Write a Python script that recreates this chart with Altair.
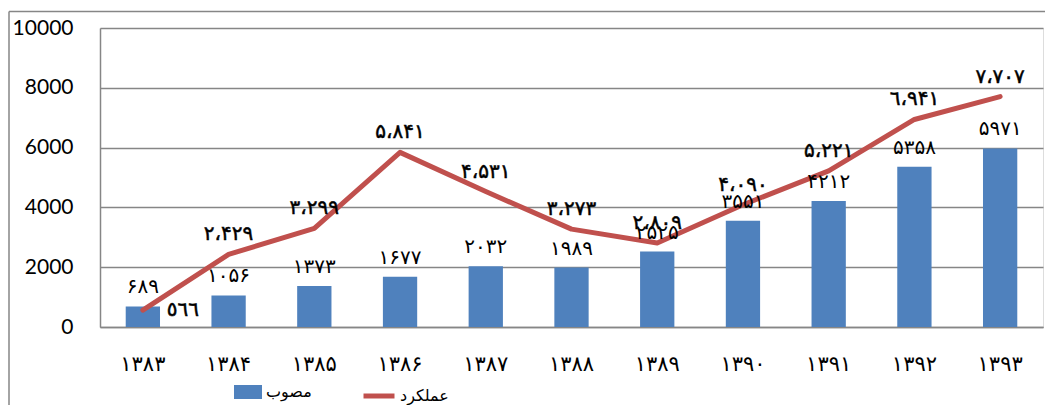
import altair as alt
import pandas as pd

years = ["۱۳۸۳", "۱۳۸۴", "۱۳۸۵", "۱۳۸۶", "۱۳۸۷", "۱۳۸۸", "۱۳۸۹", "۱۳۹۰", "۱۳۹۱", "۱۳۹۲", "۱۳۹۳"]
approved = [689, 1056, 1373, 1677, 2032, 1989, 2525, 3551, 4212, 5358, 5971]
actual = [566, 2429, 3299, 5841, 4531, 3273, 2809, 4090, 5221, 6941, 7707]
approved_labels = ["۶۸۹", "۱۰۵۶", "۱۳۷۳", "۱۶۷۷", "۲۰۳۲", "۱۹۸۹", "۲۵۲۵", "۳۵۵۱", "۴۲۱۲", "۵۳۵۸", "۵۹۷۱"]
actual_labels = ["٥٦٦", "۲،۴۲۹", "۳،۲۹۹", "۵،۸۴۱", "۴،۵۳۱", "۳،۲۷۳", "۲،۸۰۹", "۴،۰۹۰", "۵،۲۲۱", "٦،۹۴۱", "۷،۷۰۷"]
series_names = ["مصوب", "عملکرد"]
y_ticks = [0, 2000, 4000, 6000, 8000, 10000]

BLUE = "#4F81BD"
RED = "#C0504D"
GRAY = "#868686"
AR_FONT = "DejaVu Sans"

df = pd.DataFrame({
    "year": years,
    "approved": approved,
    "actual": actual,
    "al": approved_labels,
    "bl": actual_labels,
    "idx": list(range(len(years))),
    "sa": [series_names[0]] * len(years),
    "sb": [series_names[1]] * len(years),
})

x = alt.X("year:N", sort=years,
          scale=alt.Scale(paddingInner=0.6, paddingOuter=0.3),
          axis=alt.Axis(title=None, labelAngle=0, ticks=False, domain=True,
                        domainColor=GRAY, domainWidth=1.5, grid=False,
                        labelFont=AR_FONT, labelFontSize=21, labelColor="black",
                        labelPadding=26))
yscale = alt.Scale(domain=[0, 10000], nice=False)

base = alt.Chart(df)

bars = base.mark_bar().encode(
    x=x,
    y=alt.Y("approved:Q", scale=yscale,
            axis=alt.Axis(title=None, values=y_ticks, format="d", ticks=False,
                          grid=True, gridColor=GRAY, gridWidth=1.5,
                          domain=True, domainColor=GRAY, domainWidth=1.5,
                          labelFont="Lato", labelFontSize=21, labelColor="black",
                          labelPadding=27)),
    fill=alt.Fill("sa:N",
                  scale=alt.Scale(domain=[series_names[0]], range=[BLUE]),
                  legend=alt.Legend(title=None, orient="none", legendX=134, legendY=350,
                                    symbolType="M-1,-0.5H1V0.5H-1Z", symbolSize=784,
                                    symbolStrokeWidth=0, symbolOpacity=1,
                                    labelFont=AR_FONT, labelFontSize=16,
                                    labelColor="black", labelOffset=4)),
)

line = base.mark_line(strokeWidth=5, strokeCap="round", strokeJoin="round").encode(
    x=x,
    y=alt.Y("actual:Q", scale=yscale),
    stroke=alt.Stroke("sb:N",
                      scale=alt.Scale(domain=[series_names[1]], range=[RED]),
                      legend=alt.Legend(title=None, orient="none", legendX=261, legendY=350,
                                        symbolType="stroke", symbolSize=961,
                                        symbolStrokeWidth=5,
                                        labelFont=AR_FONT, labelFontSize=16,
                                        labelColor="black", labelOffset=3)),
)

bar_text = base.mark_text(dy=-19, baseline="middle", font=AR_FONT, fontSize=20,
                          color="black").encode(
    x=x, y=alt.Y("approved:Q", scale=yscale), text="al:N")

line_text = base.transform_filter("datum.idx > 0").mark_text(
    dy=-20, baseline="middle", font=AR_FONT, fontSize=20,
    color="black", stroke="black", strokeWidth=0.5).encode(
    x=x, y=alt.Y("actual:Q", scale=yscale), text="bl:N")

first_text = base.transform_filter("datum.idx == 0").mark_text(
    dx=24, align="left", baseline="middle", font=AR_FONT, fontSize=20,
    color="black", stroke="black", strokeWidth=0.5).encode(
    x=x, y=alt.Y("actual:Q", scale=yscale), text="bl:N")

frame_data = alt.Data(values=[{"k": 1}])
frame_left = alt.Chart(frame_data).mark_rule(color=GRAY, strokeWidth=1.5).encode(
    x=alt.value(-91), y=alt.value(-16.5), y2=alt.value(420))
frame_top = alt.Chart(frame_data).mark_rule(color=GRAY, strokeWidth=1.5).encode(
    x=alt.value(-91), x2=alt.value(1000), y=alt.value(-16.5))

chart = alt.layer(bars, line, bar_text, line_text, first_text, frame_left, frame_top).resolve_scale(
    fill="independent", stroke="independent"
).properties(
    width=943, height=299,
    autosize=alt.AutoSizeParams(type="none"),
    padding={"left": 92, "top": 20, "right": 2, "bottom": 78},
).configure_view(stroke=None).configure(background="white")

chart.save("out.html", embed_options={"renderer": "svg", "actions": False})
